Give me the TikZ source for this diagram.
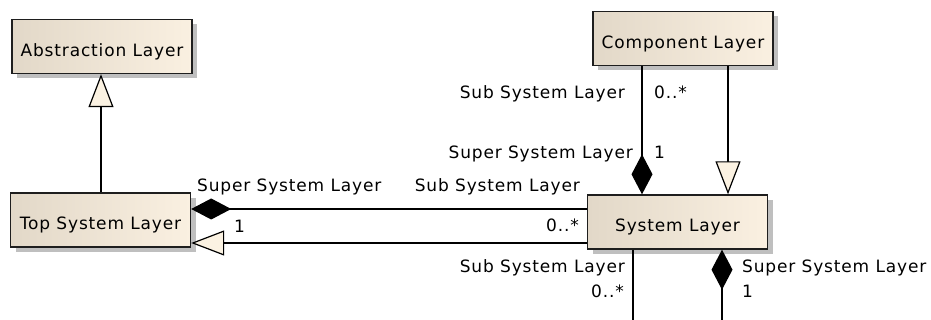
\documentclass[tikz,border=0pt]{standalone}
\usepackage{fontspec}
\setmainfont{DejaVu Sans}[LetterSpace=5]
\usetikzlibrary{arrows.meta,shadows}
\definecolor{boxl}{RGB}{226,216,200}
\definecolor{boxr}{RGB}{250,240,225}
\definecolor{tri}{RGB}{251,242,226}
\definecolor{bord}{RGB}{30,30,30}
\begin{document}
\begin{tikzpicture}[x=1pt,y=-1pt,
  font=\fontsize{17}{20}\selectfont,
  cls/.style={draw=bord, line width=1.4pt, left color=boxl, right color=boxr,
    minimum width=180pt, minimum height=54pt, inner sep=0pt,
    text height=20pt, text depth=0pt,
    drop shadow={shadow xshift=5pt, shadow yshift=-5pt, fill=black!25, opacity=1}},
  lbl/.style={inner sep=0pt},
  conn/.style={draw=black, line width=1.2pt},
  gen/.style={conn, -{Triangle[length=33pt, width=25pt, fill=tri]}},
  compo/.style={conn, -{Diamond[length=40pt, width=21pt]}}
]
\useasboundingbox (0,0) rectangle (931,320);

\node[cls] (abs) at (102,46.5) {Abstraction Layer};
\node[cls] (comp) at (683,38.5) {Component Layer};
\node[cls] (sys) at (677.5,222) {System Layer};
\node[cls] (top) at (100.5,220) {Top System Layer};

% helper coordinates
\coordinate (xa) at (101,0);
\coordinate (xb) at (642,0);
\coordinate (xc) at (728,0);
\coordinate (xd) at (633,0);
\coordinate (xe) at (722,0);
\coordinate (ya) at (0,209);
\coordinate (yb) at (0,243);
\coordinate (endd) at (633,322);
\coordinate (ende) at (722,322);

% connectors
\draw[gen] (xa |- top.north) -- (xa |- abs.south);
\draw[compo] (xb |- comp.south) -- (xb |- sys.north);
\draw[gen] (xc |- comp.south) -- (xc |- sys.north);
\draw[compo] (sys.west |- ya) -- (top.east |- ya);
\draw[gen] (sys.west |- yb) -- (top.east |- yb);
\draw[conn] (xd |- sys.south) -- (endd);
\draw[compo] (ende) -- (xe |- sys.south);

% labels
\node[lbl, anchor=base east] (l1) at (625,98.5) {Sub System Layer};
\node[lbl, anchor=base west] (l2) at (654,98.5) {0..*};
\node[lbl, anchor=base east] (l3) at (633,159) {Super System Layer};
\node[lbl, anchor=base west] (l4) at (654,159) {1};
\node[lbl, anchor=base west] (l5) at (197,192) {Super System Layer};
\node[lbl, anchor=base east] (l6) at (580,192) {Sub System Layer};
\node[lbl, anchor=base west] (l7) at (234,232.5) {1};
\node[lbl, anchor=base east] (l8) at (579,231.5) {0..*};
\node[lbl, anchor=base east] (l9) at (625,272.5) {Sub System Layer};
\node[lbl, anchor=base east] (l10) at (624,298) {0..*};
\node[lbl, anchor=base west] (l11) at (742,272.5) {Super System Layer};
\node[lbl, anchor=base west] (l12) at (742,298) {1};
\end{tikzpicture}
\end{document}
